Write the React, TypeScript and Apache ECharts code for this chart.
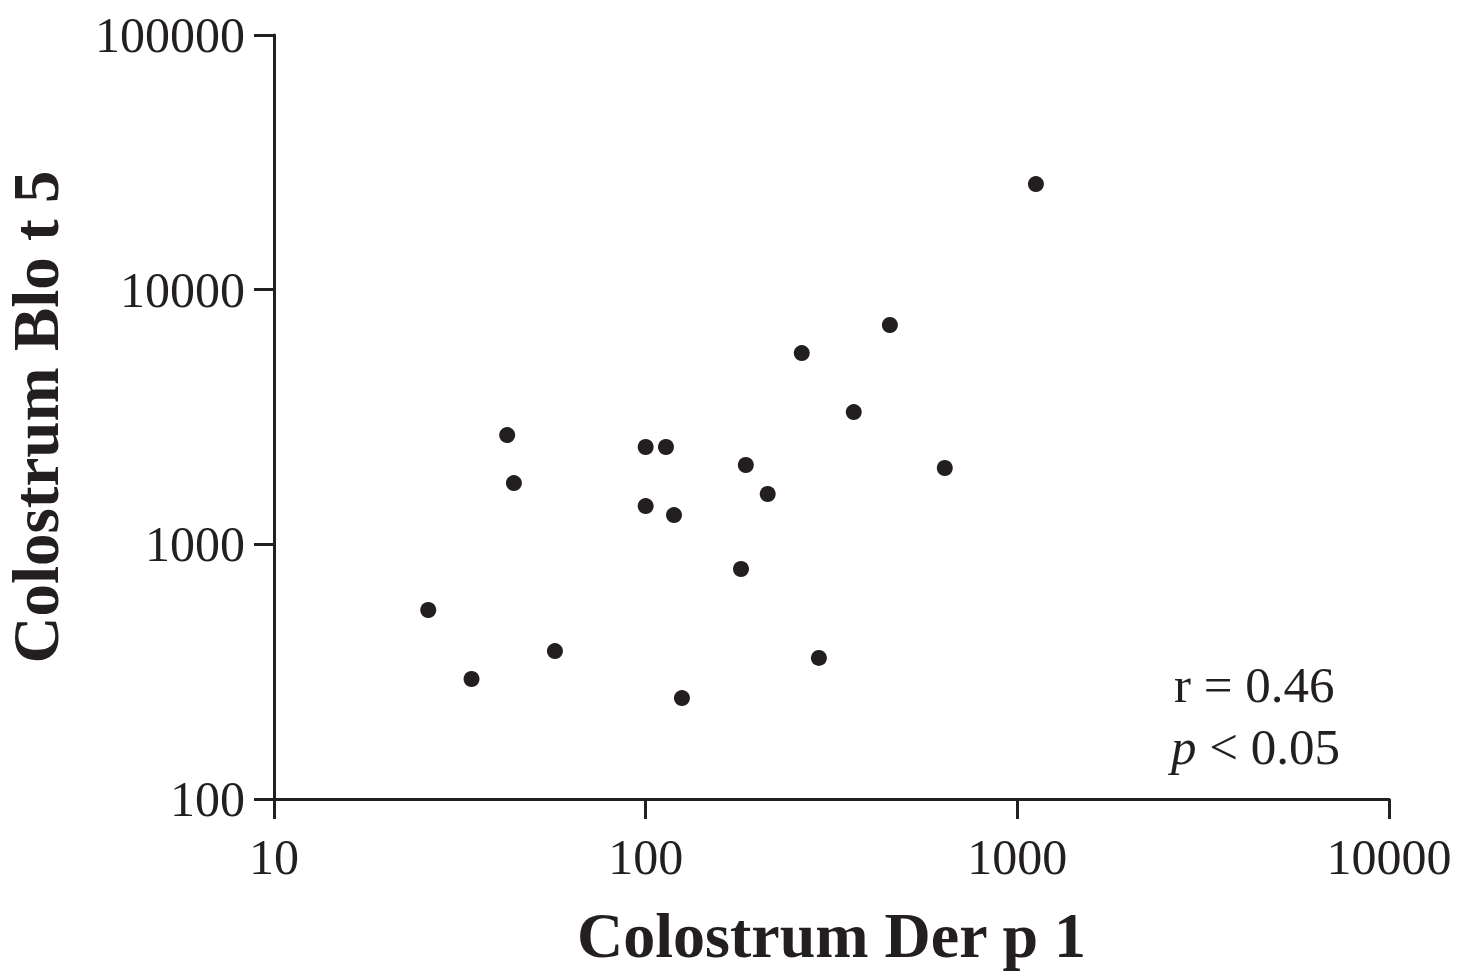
import React, { useEffect, useRef } from "react";
import * as echarts from "echarts";

const derP1 = [26, 34, 42.4, 44.2, 57, 100, 100, 113.4, 119.2, 125.2, 180.5, 186, 213, 263, 292.5, 363, 454, 638, 1122];
const bloT5 = [552, 296, 2686, 1740, 381, 2410, 1413, 2410, 1303, 249, 800, 2048, 1576, 5637, 358, 3306, 7262, 1994, 25980];
const xTicks = [10, 100, 1000, 10000];
const yTicks = [100, 1000, 10000, 100000];
const xTitle = "Colostrum Der p 1";
const yTitle = "Colostrum Blo t 5";
const statR = "r = 0.46";
const statP = "< 0.05";

const INK = "#231f20";
const FONT = "'Liberation Serif', 'Times New Roman', serif";

export default function App() {
  const ref = useRef<HTMLDivElement>(null);
  useEffect(() => {
    if (!ref.current) return;
    const chart = echarts.init(ref.current, null, { renderer: "svg" });
    const data = derP1.map((x, i) => [x, bloT5[i]]);
    const fmt = (v: number) => String(Math.round(v));
    chart.setOption({
      animation: false,
      backgroundColor: "#ffffff",
      grid: {
        left: 274,
        right: 82,
        top: 35,
        bottom: 172,
        containLabel: false,
        outerBoundsMode: "none",
      },
      xAxis: {
        type: "log",
        logBase: 10,
        min: xTicks[0],
        max: xTicks[xTicks.length - 1],
        name: xTitle,
        nameLocation: "middle",
        nameGap: 104,
        nameTextStyle: { fontFamily: FONT, fontWeight: "bold", fontSize: 64, color: INK },
        axisLine: { show: true, lineStyle: { color: INK, width: 3 } },
        axisTick: { show: true, length: 20, lineStyle: { color: INK, width: 3 } },
        minorTick: { show: false },
        splitLine: { show: false },
        axisLabel: { margin: 33, fontFamily: FONT, fontSize: 50, color: INK, formatter: fmt },
      },
      yAxis: {
        type: "log",
        logBase: 10,
        min: yTicks[0],
        max: yTicks[yTicks.length - 1],
        name: yTitle,
        nameLocation: "middle",
        nameGap: 210,
        nameTextStyle: {
          fontFamily: FONT,
          fontWeight: "bold",
          fontSize: 65,
          lineHeight: 56,
          color: INK,
        },
        axisLine: { show: true, lineStyle: { color: INK, width: 3 } },
        axisTick: { show: true, length: 20, lineStyle: { color: INK, width: 3 } },
        minorTick: { show: false },
        splitLine: { show: false },
        axisLabel: { margin: 29, fontFamily: FONT, fontSize: 50, color: INK, formatter: fmt },
      },
      series: [
        {
          type: "scatter",
          data,
          symbol: "circle",
          symbolSize: 16,
          itemStyle: { color: INK, opacity: 1 },
        },
      ],
      graphic: [
        {
          type: "text",
          left: 1174,
          top: 659,
          style: { text: statR, fontFamily: FONT, fontSize: 51, fill: INK },
        },
        {
          type: "text",
          left: 1171,
          top: 721,
          style: {
            text: "{i|p} " + statP,
            fontFamily: FONT,
            fontSize: 51,
            fill: INK,
            rich: { i: { fontFamily: FONT, fontStyle: "italic", fontSize: 51, fill: INK } },
          },
        },
      ],
    });
    return () => chart.dispose();
  }, []);
  return (
    <div
      ref={ref}
      style={{ position: "fixed", left: 0, top: 0, width: 1471, height: 971, background: "#fff" }}
    />
  );
}
